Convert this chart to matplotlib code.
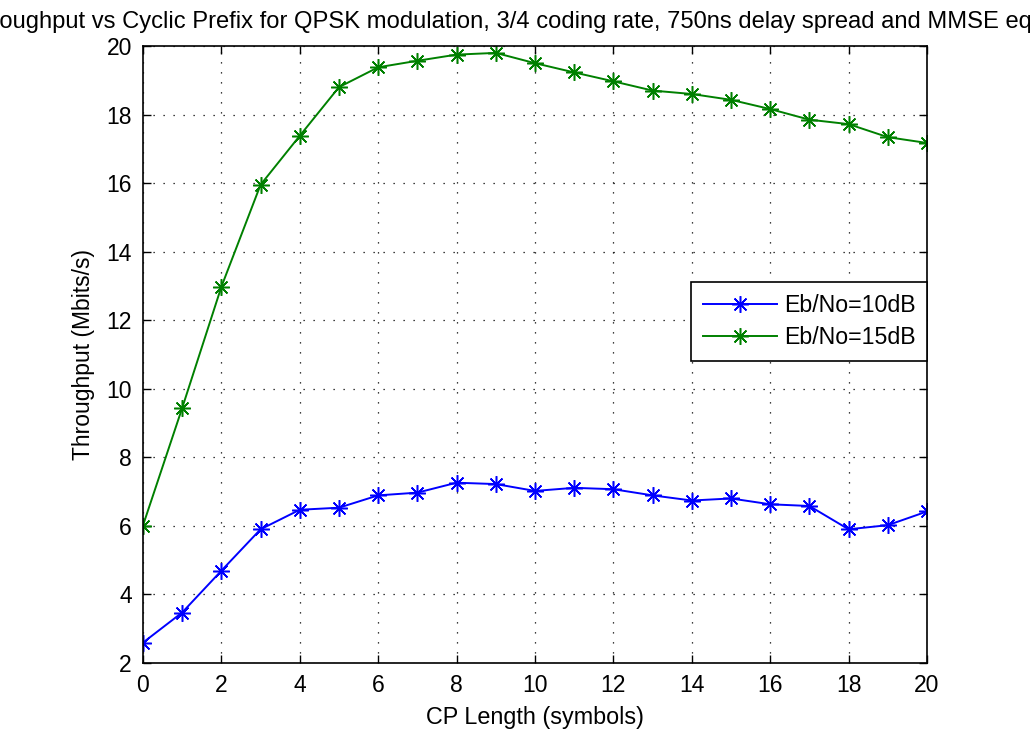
import numpy as np
import matplotlib.pyplot as plt

plt.rcParams['font.family'] = ['Liberation Sans', 'DejaVu Sans']

# CP length in symbols
cp_len = list(range(21))

# Throughput (Mbits/s) per Eb/No
thr_10db = [2.58, 3.46, 4.68, 5.89, 6.46, 6.52, 6.88, 6.96, 7.25, 7.21, 7.01,
            7.10, 7.06, 6.88, 6.73, 6.79, 6.62, 6.57, 5.89, 6.01, 6.41]
thr_15db = [6.00, 9.43, 12.97, 15.95, 17.38, 18.80, 19.38, 19.57, 19.75, 19.80, 19.50,
            19.23, 18.97, 18.70, 18.60, 18.43, 18.16, 17.85, 17.72, 17.34, 17.17]

labels = ['Eb/No=10dB', 'Eb/No=15dB']
xticks = list(range(0, 21, 2))
yticks = list(range(2, 21, 2))
title = ('Throughput vs Cyclic Prefix for QPSK modulation, 3/4 coding rate, '
         '750ns delay spread and MMSE equalization')

fig = plt.figure(figsize=(10.3, 7.31), dpi=100)
ax = fig.add_axes([0.1388, 0.0937, 0.7612, 0.8433])

star = (8, 2, 0)
ax.plot(cp_len, thr_10db, color='#0000ff', lw=1.4, marker=star, ms=12, mew=1.1,
        label=labels[0])
ax.plot(cp_len, thr_15db, color='#008000', lw=1.4, marker=star, ms=12, mew=1.1,
        label=labels[1])

ax.set_xlim(0, 20)
ax.set_ylim(2, 20)
ax.set_xticks(xticks)
ax.set_yticks(yticks)
ax.tick_params(direction='in', top=True, right=True, length=6, width=1,
               labelsize=16.5, pad=8)
for s in ax.spines.values():
    s.set_linewidth(1.2)

ax.grid(True, color='black', linestyle=(0, (1, 7)), linewidth=0.9)

ax.set_xlabel('CP Length (symbols)', fontsize=16.8, labelpad=7)
ax.set_ylabel('Throughput (Mbits/s)', fontsize=16.5, labelpad=8)

# title is wider than the figure, so it runs off both sides
fig.text(-0.0345, 1 - 28 / 731, title, fontsize=17.1, ha='left', va='baseline')

leg = ax.legend(loc='upper right', bbox_to_anchor=(1.0, 0.617), fontsize=16.7,
                fancybox=False, edgecolor='black', framealpha=1,
                handlelength=3.2, handletextpad=0.3, borderpad=0.5,
                labelspacing=0.4, borderaxespad=0)
leg.get_frame().set_linewidth(1.2)

fig.savefig('out.png', dpi=100)
